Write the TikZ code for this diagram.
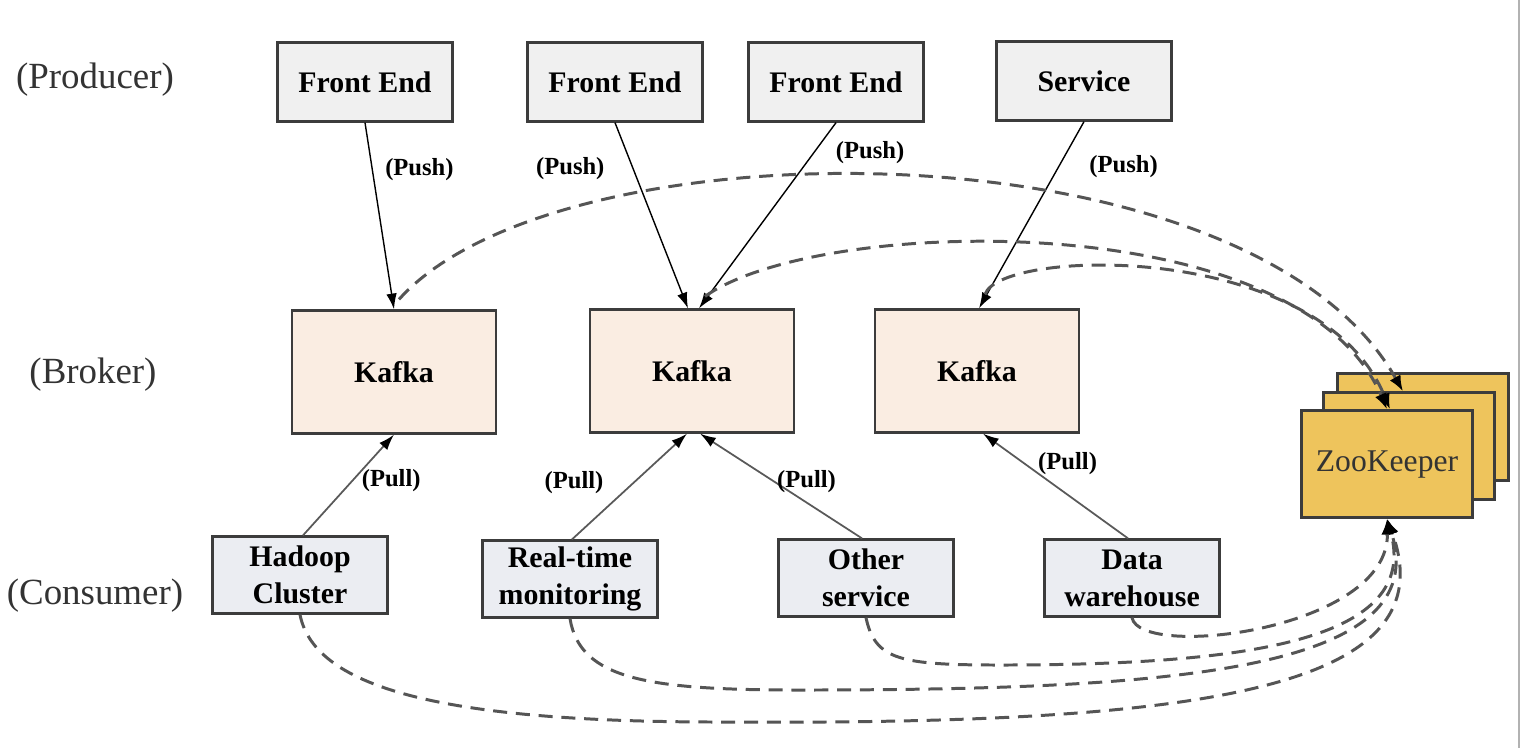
\documentclass[tikz,border=0pt]{standalone}
\usepackage{fontspec}
\setmainfont{Liberation Serif}
\usetikzlibrary{arrows.meta,calc,positioning}
\definecolor{prodfill}{HTML}{F0F0F0}
\definecolor{kafkafill}{HTML}{FAEDE2}
\definecolor{consfill}{HTML}{EBEDF2}
\definecolor{zkfill}{HTML}{EEC45C}
\definecolor{edge}{HTML}{3C3C3C}
\definecolor{dashgray}{HTML}{555555}
\tikzstyle{box}=[rectangle,draw=edge,line width=1.3pt,inner sep=0pt,align=center,
  font=\fontsize{17}{21}\selectfont\bfseries]
\tikzstyle{prod}=[box,fill=prodfill,minimum width=3.5cm,minimum height=1.58cm]
\tikzstyle{broker}=[box,fill=kafkafill,minimum width=4.08cm,minimum height=2.46cm]
\tikzstyle{cons}=[box,fill=consfill,minimum width=3.5cm,minimum height=1.54cm]
\tikzstyle{zkbox}=[box,fill=zkfill,minimum width=3.42cm,minimum height=2.14cm,
  font=\fontsize{18}{22}\selectfont,text=black!80]
\tikzstyle{layer}=[font=\fontsize{21}{25}\selectfont,text=black!80]
\tikzstyle{tag}=[font=\fontsize{14}{16}\selectfont\bfseries,inner sep=1pt]
\tikzstyle{push}=[draw=black,line width=0.8pt,-{Latex[length=9pt,width=6pt]}]
\tikzstyle{pull}=[draw=black!65,line width=1pt,-{Latex[length=9pt,width=6pt,color=black]}]
\tikzstyle{zklink}=[draw=dashgray,line width=1.7pt,dash pattern=on 8pt off 5pt,
  -{Latex[length=9pt,width=7pt,color=black]}]

\begin{document}
\begin{tikzpicture}[x=0.02cm,y=-0.02cm]
  \useasboundingbox (0,0) rectangle (1523,748);
  \draw[black!30,line width=0.8pt] (1519,0) -- (1519,748);

  % layers
  \node[layer] (lprod) at (95,80) {(Producer)};
  \node[layer] (lbrok) at (93,375) {(Broker)};
  \node[layer] (lcons) at (95,596) {(Consumer)};

  % producers
  \node[prod] (fe1) at (365,82) {Front End};
  \node[prod] (fe2) at (615,82) {Front End};
  \node[prod] (fe3) at (836,82) {Front End};
  \node[prod] (svc) at (1084,81) {Service};

  % brokers
  \node[broker] (k1) at (394,372) {Kafka};
  \node[broker] (k2) at (692,371) {Kafka};
  \node[broker] (k3) at (977,371) {Kafka};

  % zookeeper ensemble
  \node[zkbox] (zkback) at (1423,427) {};
  \node[zkbox] (zkmid) at (1409,446) {};
  \node[zkbox] (zk) at (1387,464) {ZooKeeper};

  % consumers
  \node[cons] (hc) at (300,575) {Hadoop\\Cluster};
  \node[cons] (rt) at (570,579) {Real-time\\monitoring};
  \node[cons] (os) at (866,578) {Other\\service};
  \node[cons] (dw) at (1132,578) {Data\\warehouse};

  % push
  \draw[push] (fe1.south) -- node[tag,pos=0.25,right=6pt]{(Push)} (k1.north);
  \draw[push] (fe2.south) -- node[tag,pos=0.25,left=15pt]{(Push)} ($(k2.north)+(-4,0)$);
  \draw[push] (fe3.south) -- node[tag,pos=0.16,right=11pt]{(Push)} ($(k2.north)+(7,0)$);
  \draw[push] (svc.south) -- node[tag,pos=0.24,right=16pt]{(Push)} ($(k3.north)+(2,0)$);

  % pull
  \draw[pull] ($(hc.north)+(3,0)$) -- node[tag,pos=0.54,right=4pt]{(Pull)} (k1.south);
  \draw[pull] ($(rt.north)+(2,0)$) -- node[tag,pos=0.54,left=16pt]{(Pull)} ($(k2.south)+(-5,0)$);
  \draw[pull] ($(os.north)+(-4,0)$) -- node[tag,pos=0.54,right=0pt]{(Pull)} ($(k2.south)+(8,0)$);
  \draw[pull] ($(dw.north)+(-4,0)$) -- node[tag,pos=0.71,right=6pt]{(Pull)} ($(k3.south)+(6,0)$);

  % brokers register with zookeeper
  \draw[zklink] ($(k1.north)+(5,-10)$) .. controls (560,120) and (1250,120) .. ($(zkmid.north)+(-6,0)$);
  \draw[zklink] ($(k2.north)+(13,-12)$) .. controls (820,215) and (1300,205) .. (zk.north);
  \draw[zklink] ($(k3.north)+(8,-14)$) .. controls (1000,248) and (1320,240) .. ($(zk.north)+(3,0)$);

  % consumers keep offsets in zookeeper
  \draw[zklink] (hc.south) .. controls (315,690) and (450,722) .. (720,722)
    .. controls (1200,725) and (1450,690) .. (zk.south);
  \draw[zklink] (rt.south) .. controls (580,680) and (650,690) .. (800,690)
    .. controls (1180,690) and (1435,670) .. (zk.south);
  \draw[zklink] (os.south) .. controls (875,660) and (900,665) .. (1000,665)
    .. controls (1250,665) and (1420,640) .. (zk.south);
  \draw[zklink] (dw.south) .. controls (1140,660) and (1390,630) .. (zk.south);
\end{tikzpicture}
\end{document}
